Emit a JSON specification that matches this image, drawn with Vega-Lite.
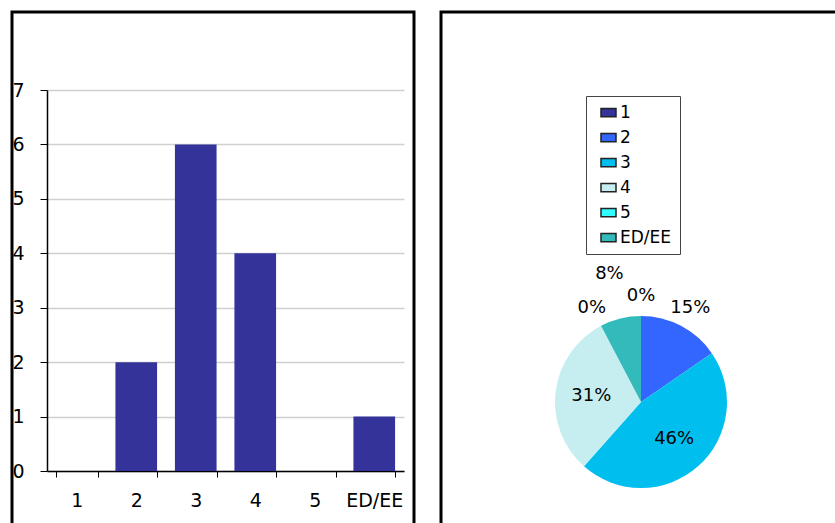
{
  "$schema": "https://vega.github.io/schema/vega-lite/v6.json",
  "background": "white",
  "padding": {"left": 10, "top": 10, "right": 0, "bottom": 0},
  "config": {"view": {"stroke": "#000", "strokeWidth": 3}, "font": "DejaVu Sans"},
  "data": {"values": [
    {"cat": "1", "count": 0, "pct": "0%"},
    {"cat": "2", "count": 2, "pct": "15%"},
    {"cat": "3", "count": 6, "pct": "46%"},
    {"cat": "4", "count": 4, "pct": "31%"},
    {"cat": "5", "count": 0, "pct": "0%"},
    {"cat": "ED/EE", "count": 1, "pct": "8%"}
  ]},
  "spacing": 23,
  "resolve": {"scale": {"color": "independent"}, "legend": {"color": "independent"}},
  "hconcat": [
    {
      "width": 402,
      "height": 520,
      "mark": {"type": "bar", "color": "#333399"},
      "encoding": {
        "x": {
          "field": "cat", "type": "nominal", "sort": null,
          "scale": {"range": [35, 392], "paddingInner": 0.3, "paddingOuter": 0.15},
          "axis": {"title": null, "labelAngle": 0, "offset": -61, "tickBand": "extent", "domainColor": "#000", "domainWidth": 1.5, "tickColor": "#000", "tickSize": 6, "labelFontSize": 19, "labelColor": "#000", "labelPadding": 14, "grid": false}
        },
        "y": {
          "field": "count", "type": "quantitative",
          "scale": {"domain": [0, 7], "range": [459, 78], "nice": false},
          "axis": {"title": null, "values": [0, 1, 2, 3, 4, 5, 6, 7], "offset": -35, "domainColor": "#000", "domainWidth": 1.5, "tickColor": "#000", "tickSize": 7, "labelFontSize": 19, "labelColor": "#000", "labelPadding": 16, "gridColor": "#d0d0d0", "gridWidth": 1.5}
        }
      }
    },
    {
      "width": 400,
      "height": 520,
      "layer": [
        {
          "data": {"values": [{"frame": 1}]},
          "mark": {"type": "rect", "fillOpacity": 0, "stroke": "#000", "strokeWidth": 3},
          "encoding": {}
        },
        {
          "mark": {"type": "arc", "outerRadius": 86, "y": {"expr": "height*0.75"}},
          "encoding": {
            "theta": {"field": "count", "type": "quantitative", "stack": true},
            "order": {"field": "cat", "sort": "ascending"},
            "color": {
              "field": "cat", "type": "nominal",
              "scale": {"domain": ["1", "2", "3", "4", "5", "ED/EE"], "range": ["#333399", "#3366ff", "#00bfef", "#c6eef0", "#33ffff", "#33bbbb"]},
              "legend": {"title": null, "orient": "none", "legendX": 145, "legendY": 84, "strokeColor": "#444", "fillColor": "white", "padding": 8, "labelFontSize": 17, "labelColor": "#000", "rowPadding": 7, "symbolType": "M-1,-0.55H1V0.55H-1Z", "symbolSize": 225, "symbolStrokeColor": "#222", "symbolStrokeWidth": 1.5, "symbolOffset": 6, "labelOffset": 3}
            }
          }
        },
        {
          "mark": {"type": "text", "radius": 50, "fontSize": 18, "fill": "#000", "y": {"expr": "height*0.75"}},
          "encoding": {
            "theta": {"field": "count", "type": "quantitative", "stack": true},
            "order": {"field": "cat", "sort": "ascending"},
            "text": {"field": "pct"},
            "opacity": {"condition": {"test": "datum.cat == '3' || datum.cat == '4'", "value": 1}, "value": 0}
          }
        },
        {
          "mark": {"type": "text", "radius": 106, "fontSize": 18, "fill": "#000", "y": {"expr": "height*0.75"}},
          "encoding": {
            "theta": {"field": "count", "type": "quantitative", "stack": true},
            "order": {"field": "cat", "sort": "ascending"},
            "text": {"field": "pct"},
            "opacity": {"condition": {"test": "datum.cat == '1' || datum.cat == '2' || datum.cat == '5'", "value": 1}, "value": 0}
          }
        },
        {
          "mark": {"type": "text", "radius": 132, "fontSize": 18, "fill": "#000", "y": {"expr": "height*0.75"}},
          "encoding": {
            "theta": {"field": "count", "type": "quantitative", "stack": true},
            "order": {"field": "cat", "sort": "ascending"},
            "text": {"field": "pct"},
            "opacity": {"condition": {"test": "datum.cat == 'ED/EE'", "value": 1}, "value": 0}
          }
        }
      ]
    }
  ]
}
